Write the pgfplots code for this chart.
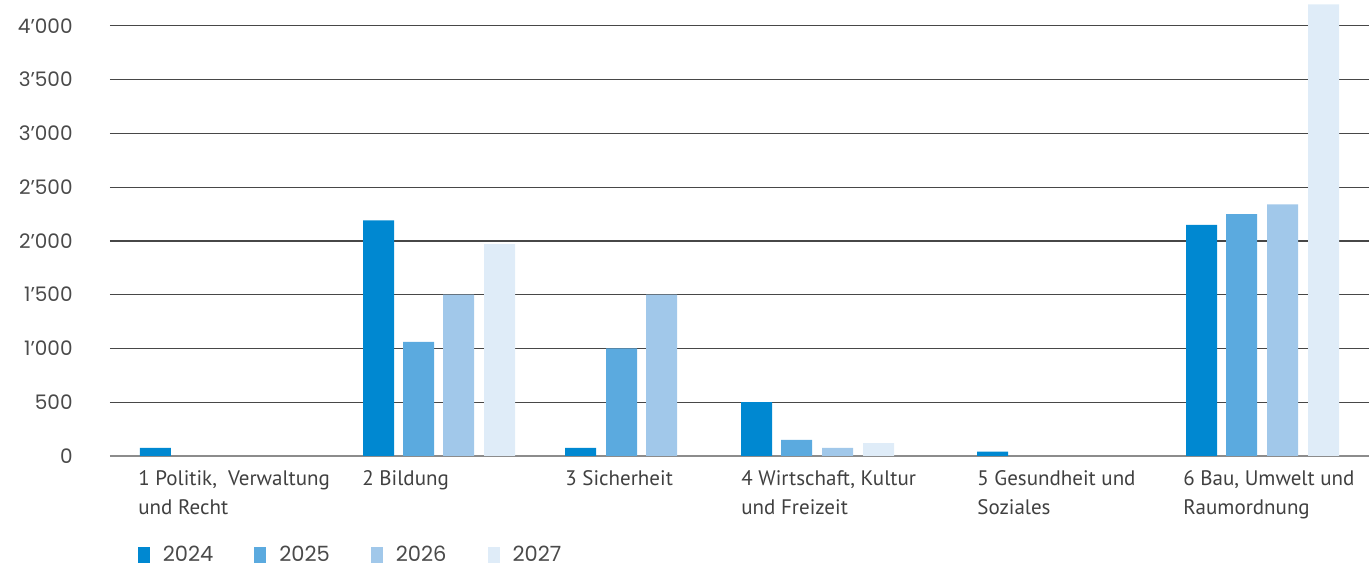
\documentclass[border=0pt]{standalone}
\usepackage{fontspec}
\setmainfont{PT Sans}
\newfontfamily\numfont{Poppins}
\usepackage{pgfplots}
\pgfplotsset{compat=1.18}
\definecolor{c24}{HTML}{0088D1}
\definecolor{c25}{HTML}{5BAADF}
\definecolor{c26}{HTML}{A1C8EA}
\definecolor{c27}{HTML}{DFECF8}
\definecolor{txt}{HTML}{404040}
\definecolor{numtxt}{HTML}{4A4A4A}
\begin{document}
\begin{tikzpicture}
\begin{axis}[
  name=ax,
  scale only axis,
  width=629.5bp, height=228bp,
  xmin=1.10, xmax=13.69,
  ymin=0, ymax=4240,
  ybar, bar width=0.31, bar shift=0pt,
  axis line style={draw=none},
  major tick length=0pt,
  ymajorgrids,
  grid style={black!72, line width=0.6bp},
  ytick={500,1000,1500,2000,2500,3000,3500,4000},
  extra y ticks={0},
  extra y tick labels={0},
  extra y tick style={grid style={black!45, line width=1.3bp}},
  /pgf/number format/assume math mode=true,
  /pgf/number format/1000 sep={’},
  yticklabel style={font=\numfont\fontsize{10bp}{12bp}\selectfont, text=numtxt, inner sep=0pt, xshift=-18.5bp},
  xtick={1.38,3.62,5.65,7.41,9.77,11.83},
  xticklabels={{1 Politik,~ Verwaltung\\und Recht},{2 Bildung},{3 Sicherheit},{4 Wirtschaft, Kultur\\und Freizeit},{5 Gesundheit und\\Soziales},{6 Bau, Umwelt und\\Raumordnung}},
  xticklabel style={font=\fontsize{10.5bp}{14.5bp}\selectfont, text=txt, anchor=north west, align=left, inner sep=0pt, yshift=-7bp},
  legend columns=4,
  legend style={draw=none, fill=none, at={(axis cs:1.375,-925)}, anchor=west, inner sep=0pt,
    font=\numfont\fontsize{10.5bp}{12bp}\selectfont, text=numtxt,
    /tikz/every even column/.append style={column sep=18.5bp}},
  legend image code/.code={\fill[#1] (0bp,-4bp) rectangle (6bp,4bp); \path (10.5bp,0bp);},
]
\addplot[fill=c24, draw=none] coordinates {(1.555,75) (3.785,2190) (5.805,75) (7.565,500) (9.925,40) (12.015,2150)};
\addplot[fill=c25, draw=none] coordinates {(4.185,1060) (6.215,1000) (7.965,150) (12.415,2250)};
\addplot[fill=c26, draw=none] coordinates {(4.585,1500) (6.615,1500) (8.375,75) (12.825,2340)};
\addplot[fill=c27, draw=none] coordinates {(4.995,1970) (8.785,120) (13.235,4200)};
\legend{2024,2025,2026,2027}
\end{axis}
\pgfresetboundingbox
\path[use as bounding box] ([xshift=-55bp,yshift=-57bp]ax.south west) rectangle (ax.north east);
\end{tikzpicture}
\end{document}
